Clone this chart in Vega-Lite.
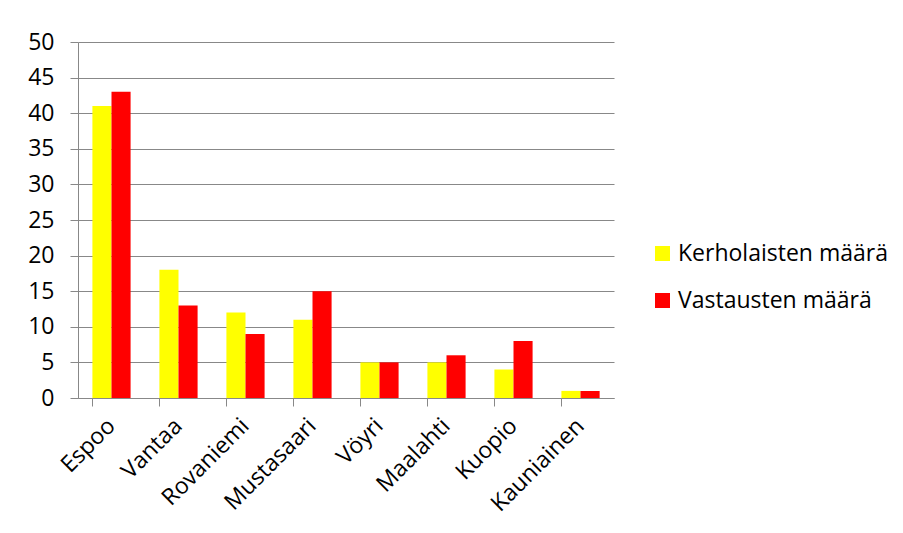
{
  "$schema": "https://vega.github.io/schema/vega-lite/v6.json",
  "width": 536,
  "height": 356,
  "autosize": {"type": "none"},
  "padding": {"left": 78, "top": 42, "right": 289, "bottom": 135},
  "background": "white",
  "data": {
    "values": [
      {"kunta": "Espoo", "sarja": "Kerholaisten määrä", "arvo": 41},
      {"kunta": "Espoo", "sarja": "Vastausten määrä", "arvo": 43},
      {"kunta": "Vantaa", "sarja": "Kerholaisten määrä", "arvo": 18},
      {"kunta": "Vantaa", "sarja": "Vastausten määrä", "arvo": 13},
      {"kunta": "Rovaniemi", "sarja": "Kerholaisten määrä", "arvo": 12},
      {"kunta": "Rovaniemi", "sarja": "Vastausten määrä", "arvo": 9},
      {"kunta": "Mustasaari", "sarja": "Kerholaisten määrä", "arvo": 11},
      {"kunta": "Mustasaari", "sarja": "Vastausten määrä", "arvo": 15},
      {"kunta": "Vöyri", "sarja": "Kerholaisten määrä", "arvo": 5},
      {"kunta": "Vöyri", "sarja": "Vastausten määrä", "arvo": 5},
      {"kunta": "Maalahti", "sarja": "Kerholaisten määrä", "arvo": 5},
      {"kunta": "Maalahti", "sarja": "Vastausten määrä", "arvo": 6},
      {"kunta": "Kuopio", "sarja": "Kerholaisten määrä", "arvo": 4},
      {"kunta": "Kuopio", "sarja": "Vastausten määrä", "arvo": 8},
      {"kunta": "Kauniainen", "sarja": "Kerholaisten määrä", "arvo": 1},
      {"kunta": "Kauniainen", "sarja": "Vastausten määrä", "arvo": 1}
    ]
  },
  "mark": {"type": "bar"},
  "encoding": {
    "x": {
      "field": "kunta",
      "type": "nominal",
      "sort": null,
      "title": null,
      "scale": {"paddingInner": 0.43, "paddingOuter": 0.215},
      "axis": {
        "labelAngle": -45,
        "labelAlign": "right",
        "labelBaseline": "middle",
        "labelFontSize": 23,
        "labelFont": "Open Sans",
        "labelColor": "#000",
        "labelPadding": 16,
        "bandPosition": 0,
        "tickSize": 8,
        "tickColor": "#888",
        "domainColor": "#888",
        "grid": false
      }
    },
    "xOffset": {"field": "sarja", "type": "nominal", "sort": null},
    "y": {
      "field": "arvo",
      "type": "quantitative",
      "title": null,
      "scale": {"domain": [0, 50], "nice": false},
      "axis": {
        "values": [0, 5, 10, 15, 20, 25, 30, 35, 40, 45, 50],
        "labelFontSize": 23,
        "labelFont": "Open Sans",
        "labelColor": "#000",
        "labelPadding": 16,
        "tickSize": 8,
        "tickColor": "#888",
        "domainColor": "#888",
        "gridColor": "#888",
        "gridWidth": 1.2
      }
    },
    "color": {
      "field": "sarja",
      "type": "nominal",
      "sort": null,
      "scale": {"domain": ["Kerholaisten määrä", "Vastausten määrä"], "range": ["#FFFF00", "#FF0000"]},
      "legend": {
        "title": null,
        "orient": "none",
        "legendX": 573,
        "legendY": 200,
        "symbolType": "square",
        "symbolSize": 225,
        "symbolStrokeWidth": 0,
        "labelFontSize": 23,
        "labelFont": "Open Sans",
        "labelColor": "#000",
        "labelOffset": 4,
        "labelLimit": 300,
        "rowPadding": 23,
        "padding": 0
      }
    }
  },
  "config": {"view": {"stroke": null}}
}
